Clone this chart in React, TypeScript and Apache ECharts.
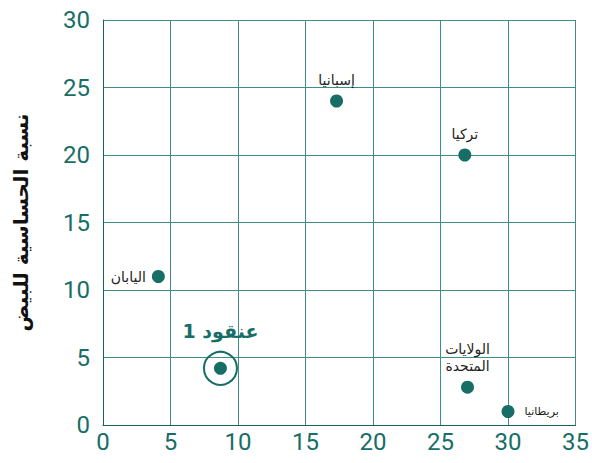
import React, { useEffect, useRef } from "react";
import * as echarts from "echarts";

const countries = ["اليابان", "إسبانيا", "تركيا", "الولايات\nالمتحدة", "بريطانيا"];
const xValues = [4.1, 17.3, 26.8, 27.0, 30.0];
const yValues = [11.0, 24.0, 20.0, 2.8, 1.0];
const labelPositions = ["left", "top", "top", "top", "right"];
const labelSizes = [14, 14, 14, 14, 11];
const clusterName = "عنقود 1";
const clusterPoint = [8.7, 4.2];
const xTicks = { min: 0, max: 35, interval: 5 };
const yTicks = { min: 0, max: 30, interval: 5 };

const TEAL = "#176e66";

export default function App() {
  const ref = useRef<HTMLDivElement>(null);
  useEffect(() => {
    if (!ref.current) return;
    const chart = echarts.init(ref.current, undefined, { renderer: "svg" });
    const data = countries.map((c, i) => ({
      value: [xValues[i], yValues[i]],
      name: c,
      label: {
        show: true,
        position: labelPositions[i],
        formatter: c,
        fontSize: labelSizes[i],
        distance: labelPositions[i] === "right" ? 10 : 6,
        color: "#222",
        fontFamily: "DejaVu Sans, sans-serif",
        lineHeight: 17,
      },
    }));
    chart.setOption({
      animation: false,
      grid: { left: 103, right: 15, top: 20, bottom: 38 },
      xAxis: {
        type: "value",
        min: xTicks.min,
        max: xTicks.max,
        interval: xTicks.interval,
        axisLine: { show: true, lineStyle: { color: "#1a5f5a", width: 1 } },
        axisTick: { show: false },
        splitLine: { show: true, lineStyle: { color: "#3f8d87", width: 1 } },
        axisLabel: { color: TEAL, fontSize: 24, fontFamily: "Roboto", margin: 5 },
      },
      yAxis: {
        type: "value",
        min: yTicks.min,
        max: yTicks.max,
        interval: yTicks.interval,
        name: "نسبة الحساسية للبيض",
        nameLocation: "middle",
        nameRotate: 90,
        nameGap: 72,
        nameTextStyle: { color: "#111", fontSize: 20, fontWeight: "bold", fontFamily: "DejaVu Sans, sans-serif" },
        axisLine: { show: true, lineStyle: { color: "#1a5f5a", width: 1 } },
        axisTick: { show: false },
        splitLine: { show: true, lineStyle: { color: "#3f8d87", width: 1 } },
        axisLabel: { color: TEAL, fontSize: 24, fontFamily: "Roboto", margin: 13 },
      },
      series: [
        {
          type: "scatter",
          symbolSize: 13,
          itemStyle: { color: TEAL, opacity: 1 },
          data,
        },
        {
          type: "scatter",
          symbolSize: 13,
          itemStyle: { color: TEAL, opacity: 1 },
          data: [clusterPoint],
        },
        {
          type: "scatter",
          symbolSize: 33,
          itemStyle: { color: "rgba(0,0,0,0)", borderColor: TEAL, borderWidth: 2, opacity: 1 },
          label: {
            show: true,
            position: "top",
            distance: 10,
            formatter: clusterName,
            color: TEAL,
            fontSize: 19,
            fontWeight: "bold",
            fontFamily: "DejaVu Sans, sans-serif",
            offset: [0, 0],
          },
          data: [clusterPoint],
        },
      ],
    });
    return () => chart.dispose();
  }, []);
  return <div ref={ref} style={{ width: 592, height: 463, position: "absolute", left: 0, top: 0 }} />;
}
